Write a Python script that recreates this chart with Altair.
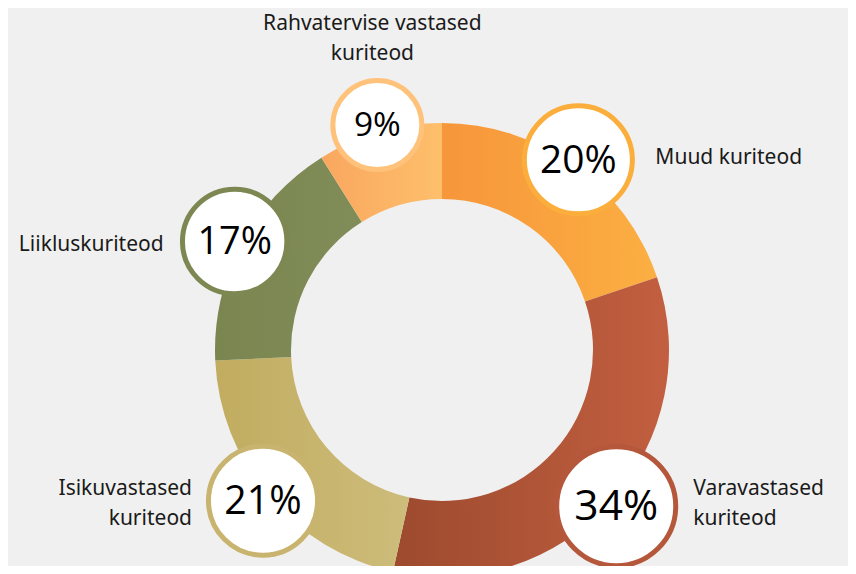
import math
import altair as alt
import pandas as pd

# ---- data ----
categories = ["Muud kuriteod", "Varavastased kuriteod", "Isikuvastased kuriteod",
              "Liikluskuriteod", "Rahvatervise vastased kuriteod"]
label_text = ["Muud kuriteod", "Varavastased\nkuriteod", "Isikuvastased\nkuriteod",
              "Liikluskuriteod", "Rahvatervise vastased\nkuriteod"]
values = [20, 34, 21, 17, 9]
pct_labels = ["20%", "34%", "21%", "17%", "9%"]

# ---- styles ----
grad_left = ["#F7963B", "#9D4A2E", "#C1AC5F", "#7A8550", "#F9A75F"]
grad_right = ["#FBAF42", "#C25F40", "#CDBC7B", "#818D58", "#FEBF6B"]
border_colors = ["#FBAE3C", "#B5573A", "#C8B46E", "#7C8752", "#FFC27B"]

# ---- layout (pixels) ----
W, H = 840, 558
CX, CY = 434, 342
R_OUT, R_IN = 227, 151
R_LAB = 234
LINE_H = 30
total = sum(values)

starts, ends = [], []
acc = 0
for v in values:
    starts.append(acc)
    acc += v
    ends.append(acc)

rows = []
for i, c in enumerate(categories):
    a = (starts[i] + ends[i]) / 2 / total * 2 * math.pi
    s = math.sin(a)
    side = "right" if s > 0.5 else ("left" if s < -0.5 else "top")
    n_lines = label_text[i].count("\n") + 1
    py = CY - R_LAB * math.cos(a)
    rows.append(dict(cat=c, value=values[i], start=starts[i], end=ends[i],
                     px=CX + R_LAB * math.sin(a), py=py,
                     ly=py - (n_lines - 1) * LINE_H / 2,
                     pct=pct_labels[i], label=label_text[i], side=side))
df = pd.DataFrame(rows)

theta_scale = alt.Scale(domain=[0, total], range=[0, 2 * math.pi])
xscale = alt.Scale(domain=[0, W], nice=False, zero=False)
yscale = alt.Scale(domain=[0, H], nice=False, zero=False, reverse=True)
xs = alt.X("px:Q", scale=xscale, axis=None)
ys = alt.Y("py:Q", scale=yscale, axis=None)
yl = alt.Y("ly:Q", scale=yscale, axis=None)

base = alt.Chart(df)

arcs = []
for i, c in enumerate(categories):
    arcs.append(
        base.transform_filter(alt.datum.cat == c)
        .mark_arc(radius=R_OUT, radius2=R_IN,
                  color=alt.Gradient(gradient="linear",
                                     stops=[alt.GradientStop(color=grad_left[i], offset=0),
                                            alt.GradientStop(color=grad_right[i], offset=1)],
                                     x1=0, x2=1, y1=0, y2=0))
        .encode(theta=alt.Theta("start:Q", scale=theta_scale), theta2="end:Q",
                x=alt.value(CX), y=alt.value(CY))
    )

circles = base.mark_point(shape="circle", filled=False, fill="white", fillOpacity=1,
                          strokeWidth=5, opacity=1).encode(
    x=xs, y=ys,
    stroke=alt.Stroke("cat:N", scale=alt.Scale(domain=categories, range=border_colors), legend=None),
    size=alt.Size("value:Q", scale=alt.Scale(type="log", domain=[9, 34], range=[7921, 14161]), legend=None),
)

pct = base.mark_text(font="Open Sans", color="#000000", baseline="middle", align="center", dy=1).encode(
    x=xs, y=ys, text="pct:N",
    size=alt.Size("value:Q", scale=alt.Scale(type="log", domain=[9, 34], range=[33.5, 42.5]), legend=None),
)

lab_common = dict(font="Noto Sans", fontSize=21, color="#1a1a1a", lineBreak="\n", lineHeight=LINE_H)
lab_right = base.transform_filter(alt.datum.side == "right").mark_text(
    align="left", baseline="middle", dx=77, dy=-2, **lab_common).encode(x=xs, y=yl, text="label:N")
lab_left = base.transform_filter(alt.datum.side == "left").mark_text(
    align="right", baseline="middle", dx=-71, dy=3, **lab_common).encode(x=xs, y=yl, text="label:N")
lab_top = base.transform_filter(alt.datum.side == "top").mark_text(
    align="center", baseline="middle", dx=-5, dy=-101, **lab_common).encode(x=xs, y=ys, text="label:N")

chart = alt.layer(*arcs, circles, pct, lab_right, lab_left, lab_top).resolve_scale(
    size="independent", stroke="independent"
).properties(
    width=W, height=H, padding=0, autosize=alt.AutoSizeParams(type="none"),
    background="#f0f0f0"
).configure_view(stroke=None)

chart.save("out.html", embed_options={"renderer": "svg", "actions": False})
